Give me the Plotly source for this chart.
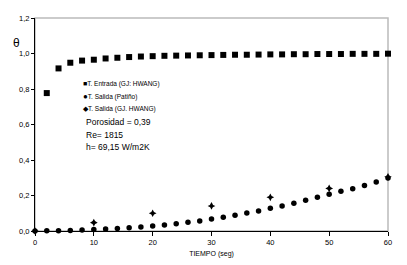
import plotly.graph_objects as go

t_entrada = [2, 4, 6, 8, 10, 12, 14, 16, 18, 20, 22, 24, 26, 28, 30, 32, 34, 36, 38, 40, 42, 44, 46, 48, 50, 52, 54, 56, 58, 60]
v_entrada = [0.777, 0.916, 0.948, 0.960, 0.965, 0.972, 0.976, 0.980, 0.983, 0.985, 0.987, 0.988, 0.989, 0.990, 0.991, 0.992, 0.993, 0.993, 0.994, 0.995, 0.995, 0.996, 0.996, 0.997, 0.997, 0.997, 0.998, 0.998, 0.998, 0.999]

t_patino = [0, 2, 4, 6, 8, 10, 12, 14, 16, 18, 20, 22, 24, 26, 28, 30, 32, 34, 36, 38, 40, 42, 44, 46, 48, 50, 52, 54, 56, 58, 60]
v_patino = [0.0, 0.001, 0.002, 0.003, 0.005, 0.008, 0.011, 0.014, 0.018, 0.023, 0.028, 0.034, 0.041, 0.049, 0.056, 0.068, 0.077, 0.089, 0.101, 0.113, 0.128, 0.141, 0.156, 0.173, 0.190, 0.207, 0.224, 0.238, 0.257, 0.276, 0.299]

t_hwang = [0, 10, 20, 30, 40, 50, 60]
v_hwang = [0.0, 0.047, 0.100, 0.141, 0.190, 0.240, 0.305]

x_ticks = [0, 10, 20, 30, 40, 50, 60]
y_ticks = [0, 0.2, 0.4, 0.6, 0.8, 1.0, 1.2]
y_labels = ["0,0", "0,2", "0,4", "0,6", "0,8", "1,0", "1,2"]

legend_names = ["T. Entrada (GJ: HWANG)", "T. Salida (Patiño)", "T. Salida (GJ. HWANG)"]
info_lines = ["Porosidad = 0,39", "Re= 1815", "h= 69,15 W/m2K"]

fig = go.Figure()
fig.add_trace(go.Scatter(x=t_entrada, y=v_entrada, mode="markers", name=legend_names[0],
                         marker=dict(symbol="square", size=6, color="black"), cliponaxis=False))
fig.add_trace(go.Scatter(x=t_patino, y=v_patino, mode="markers", name=legend_names[1],
                         marker=dict(symbol="circle", size=5.5, color="black"), cliponaxis=False))
fig.add_trace(go.Scatter(x=t_hwang, y=v_hwang, mode="markers", name=legend_names[2],
                         marker=dict(symbol="star-diamond", size=5.5, color="black"), cliponaxis=False))

font = "Liberation Sans, Arial, sans-serif"
syms = ["■", "●", "◆"]
sym_sizes = [7, 8, 7]
for i, (s, n) in enumerate(zip(syms, legend_names)):
    fig.add_annotation(x=0.13, y=0.69 - i * 0.058, xref="paper", yref="paper",
                       text="<span style='font-size:%dpx'>%s</span>%s" % (sym_sizes[i], s, n),
                       showarrow=False, xanchor="left", yanchor="middle",
                       font=dict(family=font, size=6.5, color="black"))
for i, line in enumerate(info_lines):
    fig.add_annotation(x=0.14, y=0.512 - i * 0.059, xref="paper", yref="paper",
                       text=line, showarrow=False, xanchor="left", yanchor="middle",
                       font=dict(family=font, size=8.5, color="black"))

fig.add_annotation(x=-0.068, y=0.925, xref="paper", yref="paper", text="θ", showarrow=False,
                   font=dict(family=font, size=12, color="black"))

fig.update_layout(
    width=399, height=257,
    margin=dict(l=27, r=19, t=10, b=34),
    paper_bgcolor="white", plot_bgcolor="white",
    showlegend=False,
    font=dict(family=font, size=7, color="black"),
    shapes=[dict(type="rect", xref="paper", yref="paper", x0=0, x1=1, y0=0, y1=1,
                 line=dict(color="#bbbbbb", width=1.5), layer="below")],
    xaxis=dict(range=[0, 60], tickvals=x_ticks, ticks="outside", ticklen=4, tickcolor="black",
               showline=True, linecolor="black", linewidth=1, showgrid=False, zeroline=False,
               automargin=False,
               title=dict(text="TIEMPO (seg)", font=dict(size=7), standoff=5),
               tickfont=dict(size=7.5)),
    yaxis=dict(range=[0, 1.2], tickvals=y_ticks, ticktext=y_labels, ticks="outside", ticklen=3,
               tickcolor="black", showline=True, linecolor="black", linewidth=1, showgrid=False,
               zeroline=False, automargin=False, tickfont=dict(size=7.5)),
)

fig.write_html("out.html")
